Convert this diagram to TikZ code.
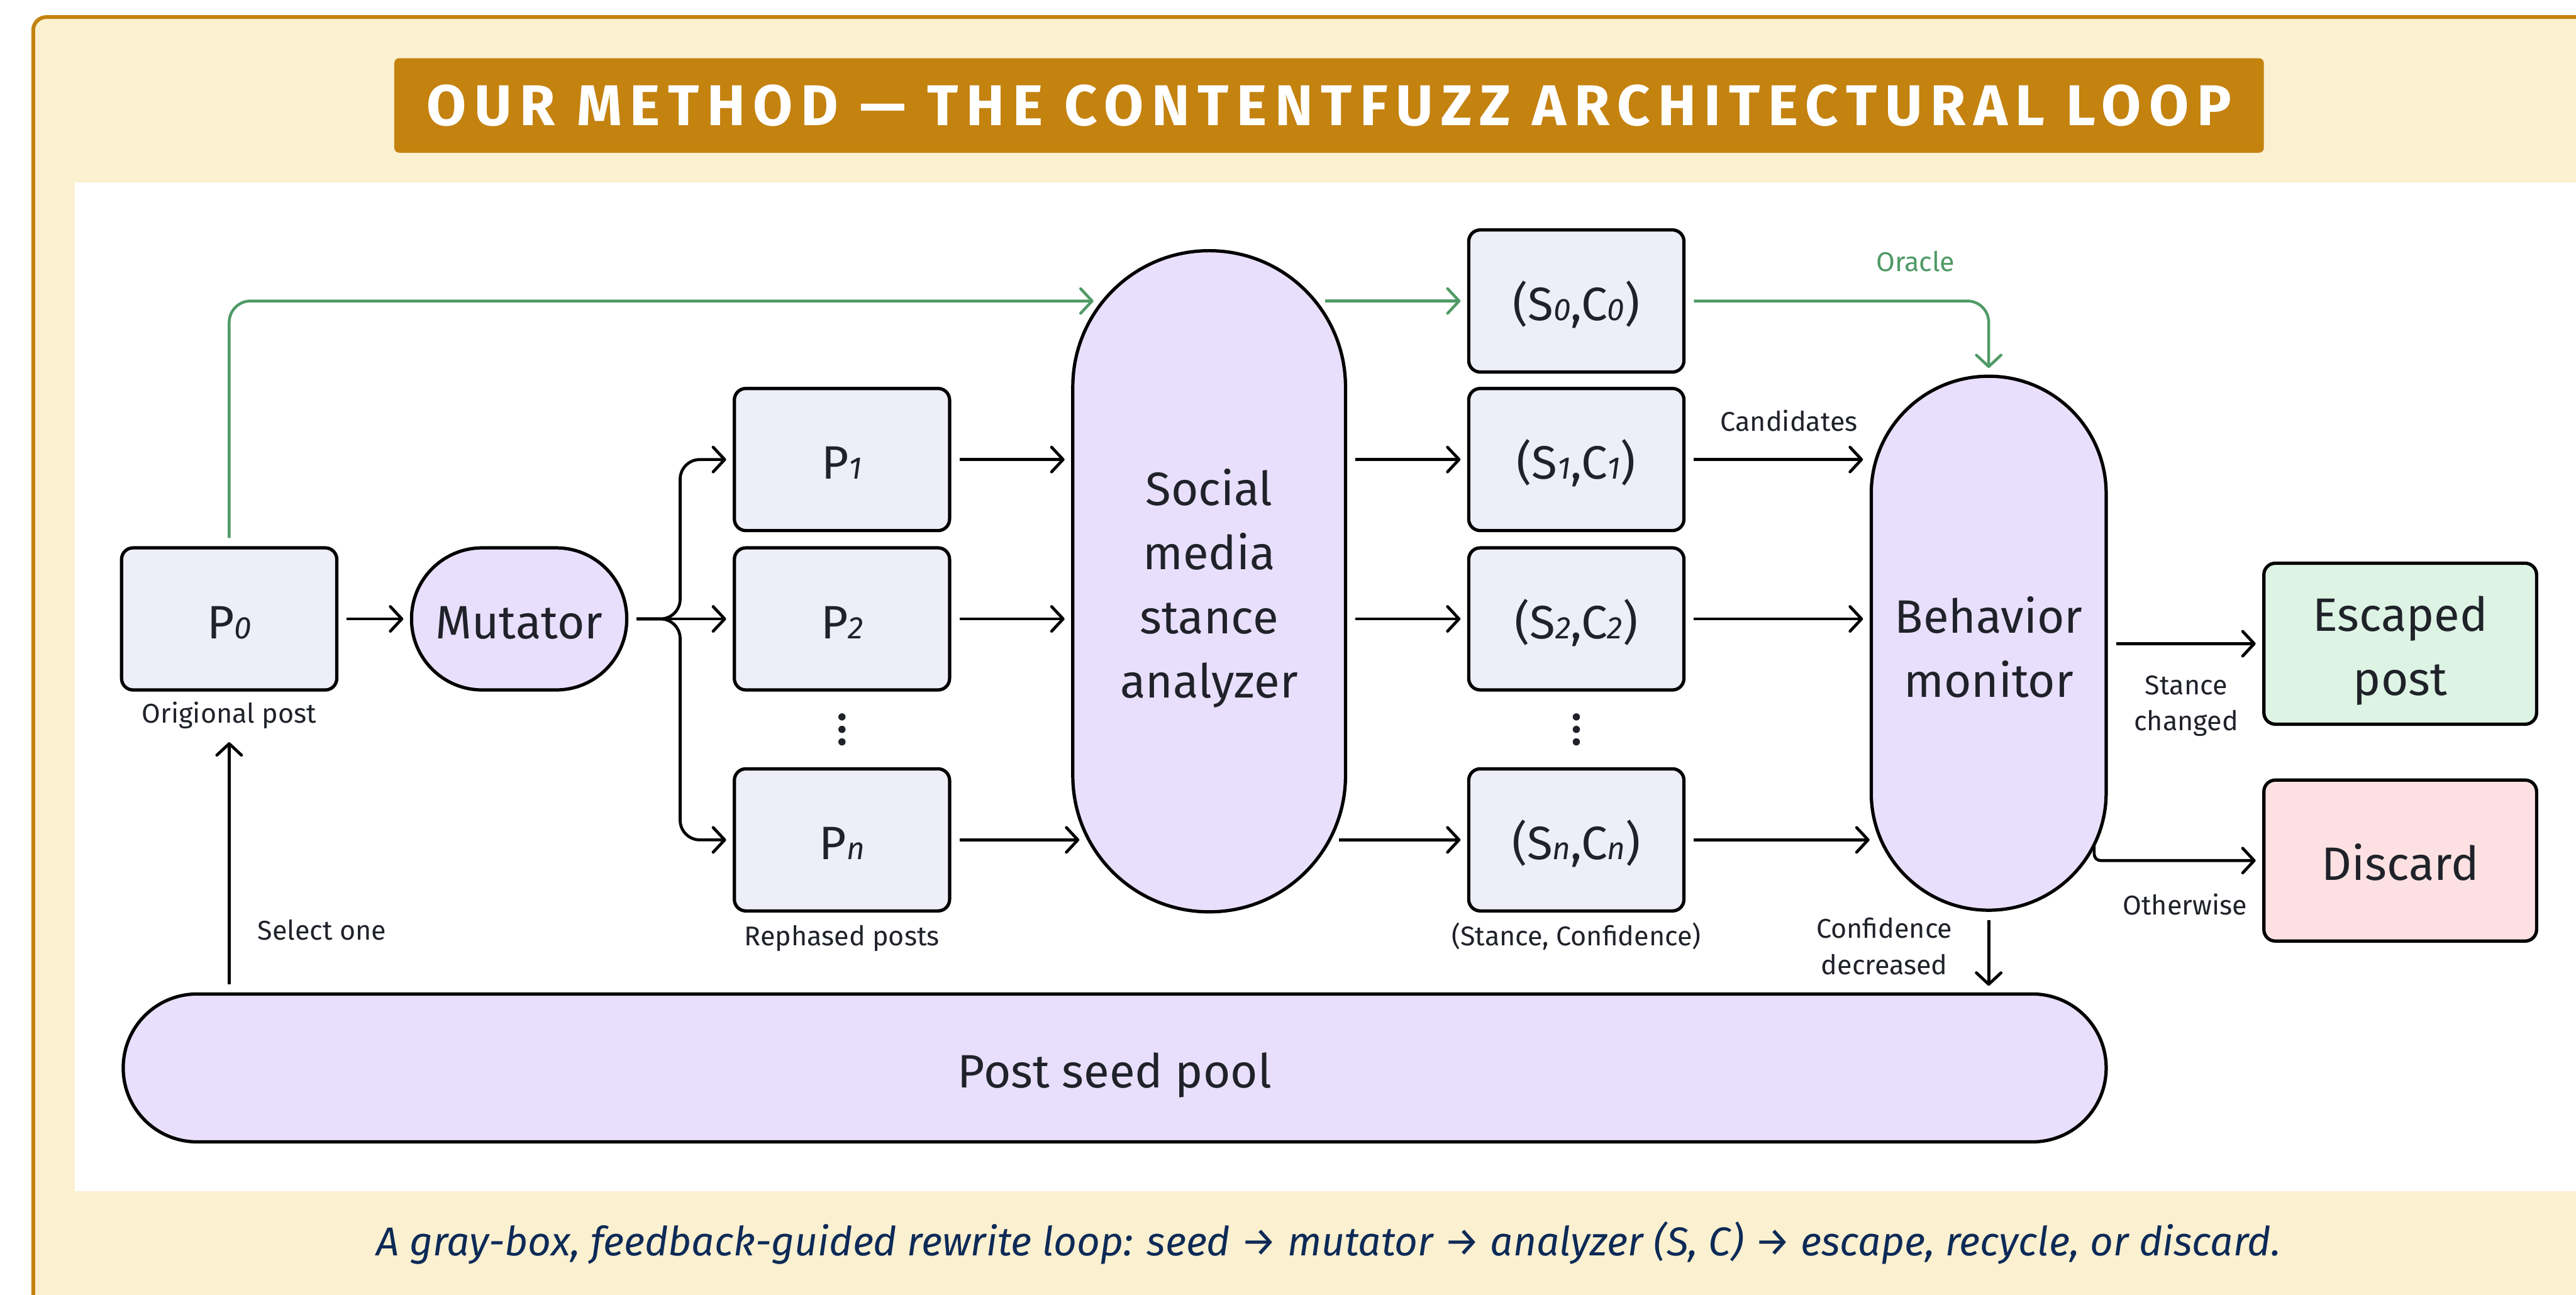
\documentclass[tikz,border=0pt]{standalone}
\usepackage{fontspec}
\setmainfont{Fira Sans}
\newfontfamily\titlefont[LetterSpace=13.8]{Fira Sans}
\usepackage{xcolor}
\usetikzlibrary{arrows.meta,positioning,calc}

\definecolor{frameGold}{HTML}{C4820F}
\definecolor{paperCream}{HTML}{FBF0D0}
\definecolor{boxFill}{HTML}{EEEEF9}
\definecolor{unitFill}{HTML}{E8DFFC}
\definecolor{escFill}{HTML}{DDF3E4}
\definecolor{dropFill}{HTML}{FDE1E2}
\definecolor{oracleGreen}{HTML}{4F9A66}
\definecolor{inkDark}{HTML}{1F2229}
\definecolor{capNavy}{HTML}{0D2A57}

\newcommand{\idx}[1]{{\fontsize{19}{19}\selectfont\itshape #1}}
\newcommand{\padtop}[1]{\rule{0pt}{#1}}
\newcommand{\mainsize}{\fontsize{28.5}{39}\selectfont}
\newcommand{\notesize}{\fontsize{16.5}{22}\selectfont}

\begin{document}
\begin{tikzpicture}[
  x=1pt, y=1pt, >={Straight Barb[length=7pt,width=15pt,round]},
  oneline/.style={text height=26pt, text depth=2pt},
  post/.style={draw=black, line width=2pt, rounded corners=7pt, fill=boxFill, minimum width=131pt, minimum height=86.5pt, inner sep=0pt, text=inkDark, font=\mainsize, oneline},
  unit/.style={draw=black, line width=2pt, fill=unitFill, inner sep=0pt, text=inkDark, font=\mainsize, align=center},
  outcome/.style={draw=black, line width=2pt, rounded corners=7pt, minimum width=166pt, minimum height=98pt, inner sep=0pt, text=inkDark, font=\mainsize, align=center},
  note/.style={text=inkDark, font=\notesize, align=center, inner sep=0pt},
  arrow/.style={->, line width=1.8pt, black, shorten <=5pt, shorten >=4pt},
  oracle/.style={->, line width=1.7pt, oracleGreen, shorten <=5pt, shorten >=4pt}
]
\useasboundingbox (0,0) rectangle (1568,788);
\clip (0,0) rectangle (1568,788);
\draw[line width=2.3pt, draw=frameGold, fill=paperCream, rounded corners=8pt] (20.2,-30) rectangle (1600,777.6);
\fill[white] (45.4,63) rectangle (1590,677);

\node[fill=frameGold, rounded corners=3pt, minimum width=1138pt, minimum height=57.5pt, inner sep=0pt, text=white, font=\titlefont\bfseries\fontsize{35}{35}\selectfont] (title) at (809,723.8) {OUR METHOD — THE CONTENTFUZZ ARCHITECTURAL LOOP};

\node[post] (p0) at (139.5,411.3) {P\idx{0}};
\node[note, below=6pt of p0] (p0lbl) {Origional post};
\node[unit, oneline, right=43.5pt of p0, minimum width=131pt, minimum height=86.5pt, rounded corners=43pt] (mut) {Mutator};
\node[post, right=63.5pt of mut] (p2) {P\idx{2}};
\node[post, above=8.5pt of p2] (p1) {P\idx{1}};
\node[post, below=46pt of p2] (pn) {P\idx{n}};
\node[note, below=7.5pt of pn] (plbl) {Rephased posts};
\coordinate (pdots) at ($(p2.south)!0.5!(pn.north)$);

\node[unit, minimum width=166pt, minimum height=402.4pt, rounded corners=82.9pt] (an) at (736,434.2) {\padtop{31pt}Social\\media\\stance\\analyzer};

\node[post] (s2) at (959.5,411.3) {(S\idx{2},C\idx{2})};
\node[post, above=8.5pt of s2] (s1) {(S\idx{1},C\idx{1})};
\node[post, above=8pt of s1] (s0) {(S\idx{0},C\idx{0})};
\node[post, below=46pt of s2] (sn) {(S\idx{n},C\idx{n})};
\node[note, below=6pt of sn] (slbl) {(Stance, Confidence)};
\coordinate (sdots) at ($(s2.south)!0.5!(sn.north)$);

\node[unit, minimum width=143pt, minimum height=325pt, rounded corners=71.4pt] (bm) at (1210.5,396.5) {\padtop{27pt}Behavior\\monitor};
\node[outcome, fill=escFill] (esc) at (1461,396.2) {\padtop{30pt}Escaped\\post};
\node[outcome, oneline, fill=dropFill, below=32pt of esc] (drop) {Discard};

\node[unit, oneline, minimum width=1207pt, minimum height=90pt, rounded corners=44.9pt] (pool) at (678.5,138) {Post seed pool};

\node[note, text=oracleGreen] (orc) at (1166,629) {Oracle};
\node[note] (cand) at (1089,532) {Candidates};
\node[note] (chg) at (1330.7,358.4) {Stance\\changed};
\node[note] (other) at (1330,237.7) {Otherwise};
\node[note] (dec) at (1147,212) {Confidence\\decreased};
\node[note] (sel) at (196,222) {Select one};

\foreach \k in {-1,0,1} {
  \fill[inkDark] ($(pdots)+(0,7.6*\k)$) circle (2.2pt);
  \fill[inkDark] ($(sdots)+(0,7.6*\k)$) circle (2.2pt);
}

\coordinate (fork) at ($(mut.east)+(31.5,0)$);
\draw[arrow] (p0) -- (mut);
\draw[arrow, rounded corners=12pt] (mut.east) -- (fork) |- (p1.west);
\draw[arrow] (mut) -- (p2);
\draw[arrow, rounded corners=12pt] (mut.east) -- (fork) |- (pn.west);

\draw[arrow] (p1) -- (p1 -| an.west);
\draw[arrow] (p2) -- (p2 -| an.west);
\draw[arrow, shorten >=-5pt] (pn) -- (pn -| an.west);
\draw[arrow] (an.east |- s1) -- (s1);
\draw[arrow] (an.east |- s2) -- (s2);
\draw[arrow, shorten <=-5pt] (an.east |- sn) -- (sn);

\draw[arrow] (s1) -- (s1 -| bm.west);
\draw[arrow] (s2) -- (s2 -| bm.west);
\draw[arrow, shorten >=0pt] (sn) -- (sn -| bm.west);

\draw[oracle, rounded corners=13pt, shorten >=-13.6pt] (p0.north) |- (s0 -| an.west);
\draw[oracle, shorten <=-13.4pt] (an.east |- s0) -- (s0);
\draw[oracle, rounded corners=13pt] (s0) -| (bm.north);

\draw[arrow] (bm.east |- esc) -- (esc);
\draw[arrow, shorten <=0pt, rounded corners=4pt] ($(bm.east |- drop)+(-8.3,10.2)$) |- (drop);
\draw[arrow] (bm.south) -- (bm.south |- pool.north);
\draw[arrow, shorten >=8pt] (p0 |- pool.north) -- (p0lbl);

\node[anchor=base, text=capNavy, font=\fontsize{24.5}{24.5}\selectfont\itshape] (caption) at (808.7,23.8) {A gray-box, feedback-guided rewrite loop: seed → mutator → analyzer (S, C) → escape, recycle, or discard.};
\end{tikzpicture}
\end{document}
